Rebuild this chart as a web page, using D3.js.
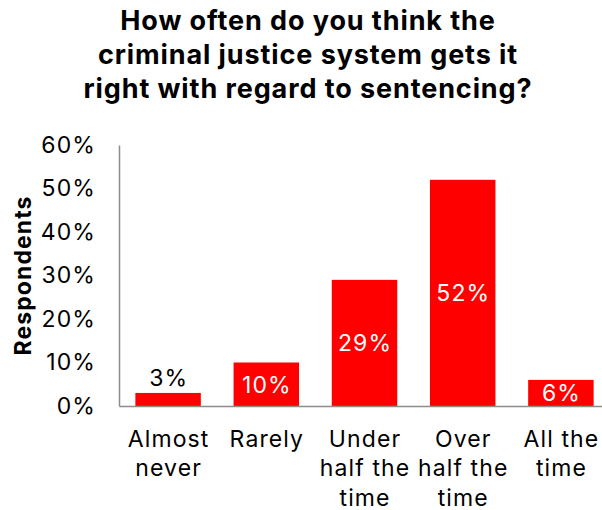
<!DOCTYPE html>
<html>
<head>
<meta charset="utf-8">
<script src="https://cdn.jsdelivr.net/npm/d3@7"></script>
<style>
  html, body { margin: 0; padding: 0; background: #fff; }
  svg { display: block; }
  text { font-family: Inter, "Open Sans", sans-serif; }
</style>
</head>
<body>
<svg id="chart" width="602" height="510"></svg>
<script>
// Survey responses: share of respondents per answer
const categories = ["Almost never", "Rarely", "Under half the time", "Over half the time", "All the time"];
const categoryLines = [["Almost", "never"], ["Rarely"], ["Under", "half the", "time"], ["Over", "half the", "time"], ["All the", "time"]];
const values = [3, 10, 29, 52, 6];
const yTicks = [0, 10, 20, 30, 40, 50, 60];
const titleLines = ["How often do you think the", "criminal justice system gets it", "right with regard to sentencing?"];
const yTitle = "Respondents";

const svg = d3.select("#chart");
const margin = { left: 119, right: -8, top: 145, bottom: 104 };
const W = 602, H = 510;
const labelSize = 23, labelSpacing = 1.1;

const x = d3.scaleBand()
  .domain(categories)
  .range([margin.left, W - margin.right])
  .paddingInner(1 / 3)
  .paddingOuter(1 / 6);

const y = d3.scaleLinear()
  .domain([0, 60])
  .range([H - margin.bottom, margin.top]);

// Title
svg.append("g")
  .selectAll("text")
  .data(titleLines)
  .join("text")
  .attr("x", 308)
  .attr("y", (d, i) => 30 + i * 34)
  .attr("text-anchor", "middle")
  .attr("font-size", 27)
  .attr("font-weight", 700)
  .attr("letter-spacing", 0.9)
  .attr("fill", "#000")
  .text(d => d);

// Bars
svg.append("g")
  .selectAll("rect")
  .data(values)
  .join("rect")
  .attr("x", (d, i) => x(categories[i]))
  .attr("width", x.bandwidth())
  .attr("y", d => y(d))
  .attr("height", d => y(0) - y(d))
  .attr("fill", "#ff0000");

// Value labels: centred inside the bar, or above it when the bar is too short
svg.append("g")
  .selectAll("text")
  .data(values)
  .join("text")
  .attr("x", (d, i) => x(categories[i]) + x.bandwidth() / 2 + labelSpacing / 2)
  .attr("y", d => d < 5 ? y(d) - 7 : (y(d) + y(0)) / 2)
  .attr("dy", d => d < 5 ? 0 : "0.36em")
  .attr("text-anchor", "middle")
  .attr("font-size", labelSize)
  .attr("letter-spacing", labelSpacing)
  .attr("fill", d => d < 5 ? "#000" : "#fff")
  .text(d => d + "%");

// Y axis
const yAxis = d3.axisLeft(y)
  .tickValues(yTicks)
  .tickFormat(d => d + "%")
  .tickSize(0)
  .tickPadding(23);

const gy = svg.append("g")
  .attr("transform", `translate(${margin.left},0)`)
  .call(yAxis);
gy.select(".domain").attr("stroke", "#8c8c8c").attr("stroke-width", 1.5);
gy.selectAll(".tick text")
  .attr("font-size", labelSize)
  .attr("letter-spacing", labelSpacing)
  .attr("fill", "#000")
  .style("font-family", "Inter, 'Open Sans', sans-serif");

// X axis
const xAxis = d3.axisBottom(x).tickSize(0).tickFormat("");
const gx = svg.append("g")
  .attr("transform", `translate(0,${y(0)})`)
  .call(xAxis);
gx.select(".domain").attr("stroke", "#8c8c8c").attr("stroke-width", 1.5);

// Category labels, wrapped onto lines
const cat = svg.append("g")
  .selectAll("text")
  .data(categories)
  .join("text")
  .attr("x", d => x(d) + x.bandwidth() / 2 + labelSpacing / 2)
  .attr("y", 447)
  .attr("text-anchor", "middle")
  .attr("font-size", labelSize)
  .attr("letter-spacing", labelSpacing)
  .attr("fill", "#000");
cat.selectAll("tspan")
  .data((d, i) => categoryLines[i])
  .join("tspan")
  .attr("x", function () { return d3.select(this.parentNode).attr("x"); })
  .attr("dy", (d, i) => i === 0 ? 0 : 29.3)
  .text(d => d);

// Y axis title
svg.append("text")
  .attr("transform", `translate(31,${(y(0) + y(60)) / 2}) rotate(-90)`)
  .attr("text-anchor", "middle")
  .attr("font-size", labelSize)
  .attr("font-weight", 700)
  .attr("letter-spacing", labelSpacing)
  .attr("fill", "#000")
  .text(yTitle);
</script>
</body>
</html>
